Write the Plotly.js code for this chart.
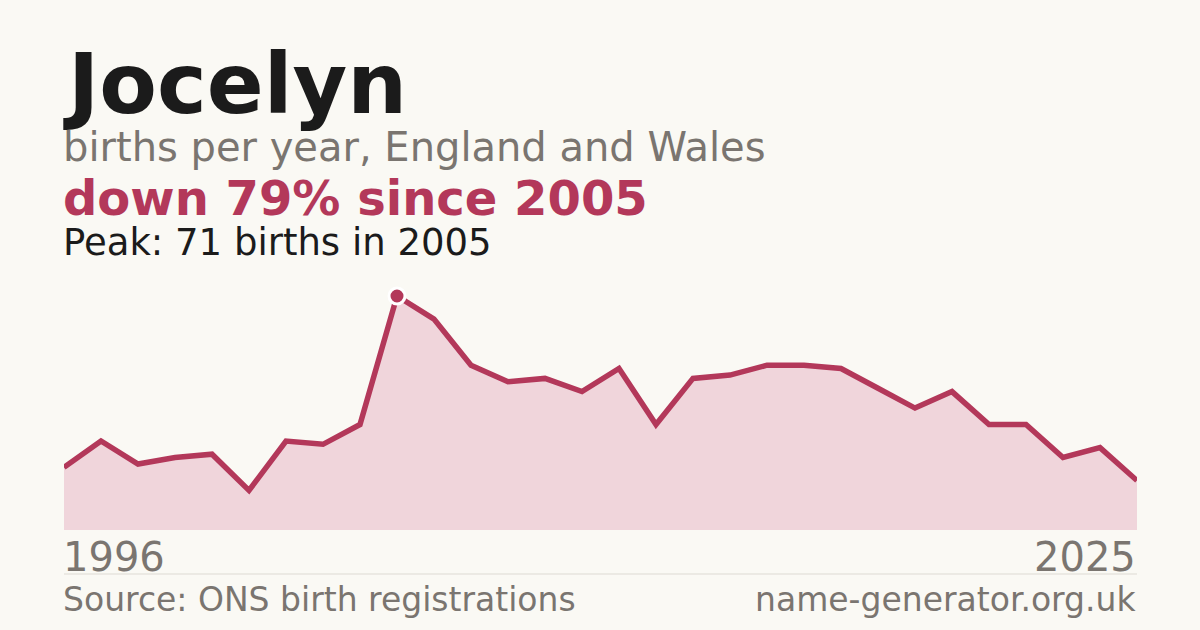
<!DOCTYPE html>
<html>
<head>
<meta charset="utf-8">
<script src="https://cdn.plot.ly/plotly-3.0.1.min.js"></script>
<style>
  html, body { margin: 0; padding: 0; background: #faf9f4; }
  #chart { width: 1200px; height: 630px; }
</style>
</head>
<body>
<div id="chart"></div>
<script>
// data
var years = [1996, 1997, 1998, 1999, 2000, 2001, 2002, 2003, 2004, 2005,
             2006, 2007, 2008, 2009, 2010, 2011, 2012, 2013, 2014, 2015,
             2016, 2017, 2018, 2019, 2020, 2021, 2022, 2023, 2024, 2025];
var births = [19, 27, 20, 22, 23, 12, 27, 26, 32, 71,
              64, 50, 45, 46, 42, 49, 32, 46, 47, 50,
              50, 49, 43, 37, 42, 32, 32, 22, 25, 15];
var peakYear = [2005];
var peakValue = [71];
var name = 'Jocelyn';
var subtitle = 'births per year, England and Wales';
var change = 'down 79% since 2005';
var peakText = 'Peak: 71 births in 2005';
var source = 'Source: ONS birth registrations';
var site = 'name-generator.org.uk';

var red = '#b3385a';
var grey = '#7a7570';
var font = 'DejaVu Sans, sans-serif';

// plot area: top 296px, bottom 530px
var top_ = 296, bottom = 530;
function py(p) { return (bottom - p) / (bottom - top_); }

var area = {
  x: years, y: births,
  type: 'scatter', mode: 'lines',
  fill: 'tozeroy', fillcolor: '#f0d5db',
  line: {color: red, width: 5.5},
  hoverinfo: 'skip'
};
var peak = {
  x: peakYear, y: peakValue,
  type: 'scatter', mode: 'markers',
  marker: {color: red, size: 16, line: {color: '#ffffff', width: 3}},
  cliponaxis: false,
  hoverinfo: 'skip'
};

function note(text, x, xref, xanchor, ypx, size, color, bold) {
  return {
    text: bold ? '<b>' + text + '</b>' : text,
    x: x, xref: xref, xanchor: xanchor, xshift: xanchor == 'left' ? -2 : 0,
    y: py(ypx), yref: 'paper', yanchor: 'middle',
    showarrow: false, borderpad: 0,
    font: {family: font, size: size, color: color}
  };
}

var layout = {
  width: 1200, height: 630,
  paper_bgcolor: '#faf9f4', plot_bgcolor: '#faf9f4',
  margin: {l: 64, r: 63, t: top_, b: 630 - bottom, pad: 0},
  showlegend: false,
  xaxis: {range: [years[0], years[years.length - 1]], visible: false, fixedrange: true},
  yaxis: {range: [0, 71], visible: false, fixedrange: true},
  shapes: [
    {type: 'line', xref: 'paper', yref: 'paper', x0: 0, x1: 1, y0: py(574), y1: py(574),
     line: {color: '#dddad3', width: 1}}
  ],
  annotations: [
    note(name, 0, 'paper', 'left', 84, 84, '#1b1b1b', true),
    note(subtitle, 0, 'paper', 'left', 147, 40, grey, false),
    note(change, 0, 'paper', 'left', 198, 48, red, true),
    note(peakText, 0, 'paper', 'left', 242, 37, '#1b1b1b', false),
    note(String(years[0]), years[0], 'x', 'left', 557, 40, grey, false),
    note(String(years[years.length - 1]), years[years.length - 1], 'x', 'right', 557, 40, grey, false),
    note(source, 0, 'paper', 'left', 599, 33, grey, false),
    note(site, 1, 'paper', 'right', 599, 33, grey, false)
  ]
};

Plotly.newPlot('chart', [area, peak], layout, {staticPlot: true, displayModeBar: false});
</script>
</body>
</html>
